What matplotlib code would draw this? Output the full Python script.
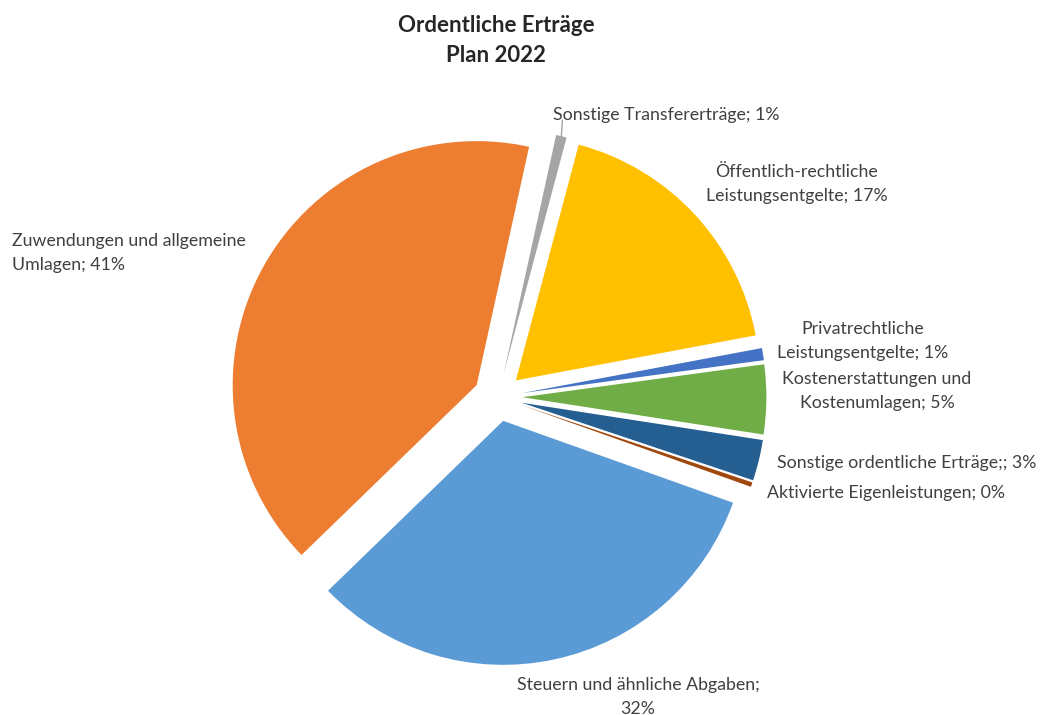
import numpy as np
import matplotlib
matplotlib.use('Agg')
import matplotlib.pyplot as plt

plt.rcParams['font.family'] = ['Lato', 'DejaVu Sans']

# Anteile in Prozent, Reihenfolge wie in der Excel-Tabelle
kategorien = ['Steuern und ähnliche Abgaben', 'Zuwendungen und allgemeine Umlagen',
              'Sonstige Transfererträge', 'Öffentlich-rechtliche Leistungsentgelte',
              'Privatrechtliche Leistungsentgelte', 'Kostenerstattungen und Kostenumlagen',
              'Sonstige ordentliche Erträge', 'Aktivierte Eigenleistungen']
anteile = [32.3, 40.7, 0.7, 17.9, 0.8, 4.6, 2.7, 0.3]
beschriftungen = ['Steuern und ähnliche Abgaben;\n32%',
                  'Zuwendungen und allgemeine\nUmlagen; 41%',
                  'Sonstige Transfererträge; 1%',
                  'Öffentlich-rechtliche\nLeistungsentgelte; 17%',
                  'Privatrechtliche\nLeistungsentgelte; 1%',
                  'Kostenerstattungen und\nKostenumlagen; 5%',
                  'Sonstige ordentliche Erträge;; 3%',
                  'Aktivierte Eigenleistungen; 0%']
farben = ['#5B9BD5', '#ED7D31', '#A5A5A5', '#FFC000',
          '#4472C4', '#70AD47', '#255E91', '#9E480E']

W, H = 1041, 715
fig = plt.figure(figsize=(W / 100, H / 100), dpi=100)
ax = fig.add_axes([0, 0, 1, 1])

# Mitte und Radius in Pixeln
cx, cy, R = 498, 397, 244
wedges, _ = ax.pie(anteile, colors=farben, startangle=90 - 109.6, counterclock=False,
                   explode=[0.1] * len(anteile), radius=1.0,
                   wedgeprops=dict(linewidth=0))
ax.set_xlim(-cx / R, (W - cx) / R)
ax.set_ylim(-(H - cy) / R, cy / R)
ax.set_aspect('auto')
ax.set_axis_off()

def px(x, y):
    return x / W, 1 - y / H

# Titel
fig.text(*px(496, 25), 'Ordentliche Erträge', ha='center', va='center',
         fontsize=16, fontweight='bold', color='#262626')
fig.text(*px(496, 56), 'Plan 2022', ha='center', va='center',
         fontsize=16, fontweight='bold', color='#262626')

# Positionen der Datenbeschriftungen (Pixel)
pos = [(638, 697, 'center'), (12, 253, 'left'), (553, 115, 'left'),
       (797, 184, 'center'), (863, 341, 'center'), (877, 391, 'center'),
       (777, 463, 'left'), (767, 493, 'left')]
for (x, y, ha), txt in zip(pos, beschriftungen):
    fig.text(*px(x, y), txt, ha=ha, va='center', fontsize=12.8,
             color='#404040', linespacing=1.55, multialignment=ha)

# Führungslinie für die kleine graue Scheibe
w = wedges[2]
mid = np.deg2rad((w.theta1 + w.theta2) / 2)
x0 = w.center[0] + w.r * np.cos(mid)
y0 = w.center[1] + w.r * np.sin(mid)
ax.plot([x0, x0 + 0.004], [y0, y0 + 0.065], color='#A5A5A5', linewidth=1)

fig.savefig('out.png', dpi=100)
